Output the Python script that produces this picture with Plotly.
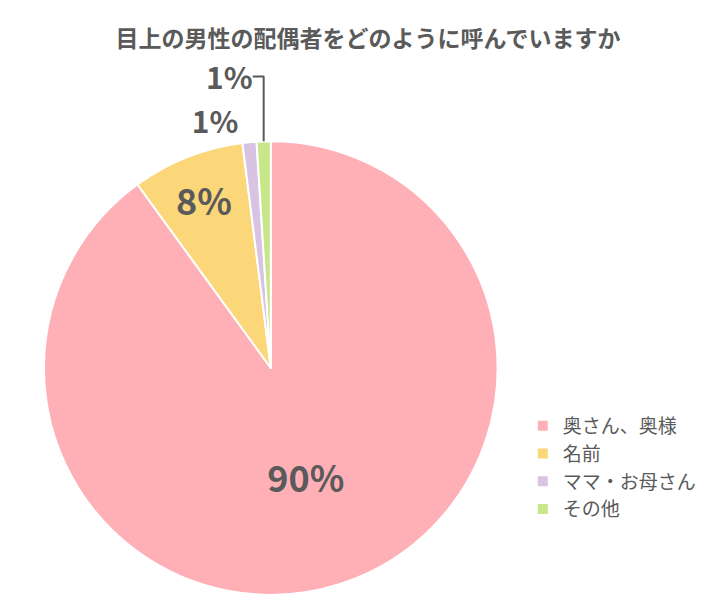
import plotly.graph_objects as go

labels = ["奥さん、奥様", "名前", "ママ・お母さん", "その他"]
values = [90, 8, 1, 1]
colors = ["#FFB0B7", "#FBD77A", "#D9C3E3", "#C8E68A"]
text_pos = ["inside", "inside", "outside", "outside"]

font_family = "Noto Sans CJK JP"

fig = go.Figure(go.Pie(
    labels=labels, values=values, sort=False, direction="clockwise",
    rotation=0,
    marker=dict(colors=colors, line=dict(color="white", width=2)),
    texttemplate="<b>%{value}%</b>", textposition=text_pos,
    insidetextorientation="horizontal",
    insidetextfont=dict(size=36, color="#5a5a5a", family=font_family),
    outsidetextfont=dict(size=30, color="#5a5a5a", family=font_family),
    domain=dict(x=[0.05, 0.68], y=[0.02, 0.78]),
    hoverinfo="label+percent",
))

fig.update_layout(
    width=720, height=600,
    paper_bgcolor="white", plot_bgcolor="white",
    margin=dict(l=0, r=0, t=0, b=0),
    font=dict(family=font_family, color="#5a5a5a"),
    title=dict(text="<b>目上の男性の配偶者をどのように呼んでいますか</b>",
               x=0.5, xanchor="center", y=0.948, yanchor="middle",
               font=dict(size=23, color="#5a5a5a")),
    legend=dict(x=0.715, y=0.335, xanchor="left", yanchor="top",
                font=dict(size=19, color="#5a5a5a"),
                itemwidth=30),
    showlegend=True,
)

fig.write_html("out.html")
